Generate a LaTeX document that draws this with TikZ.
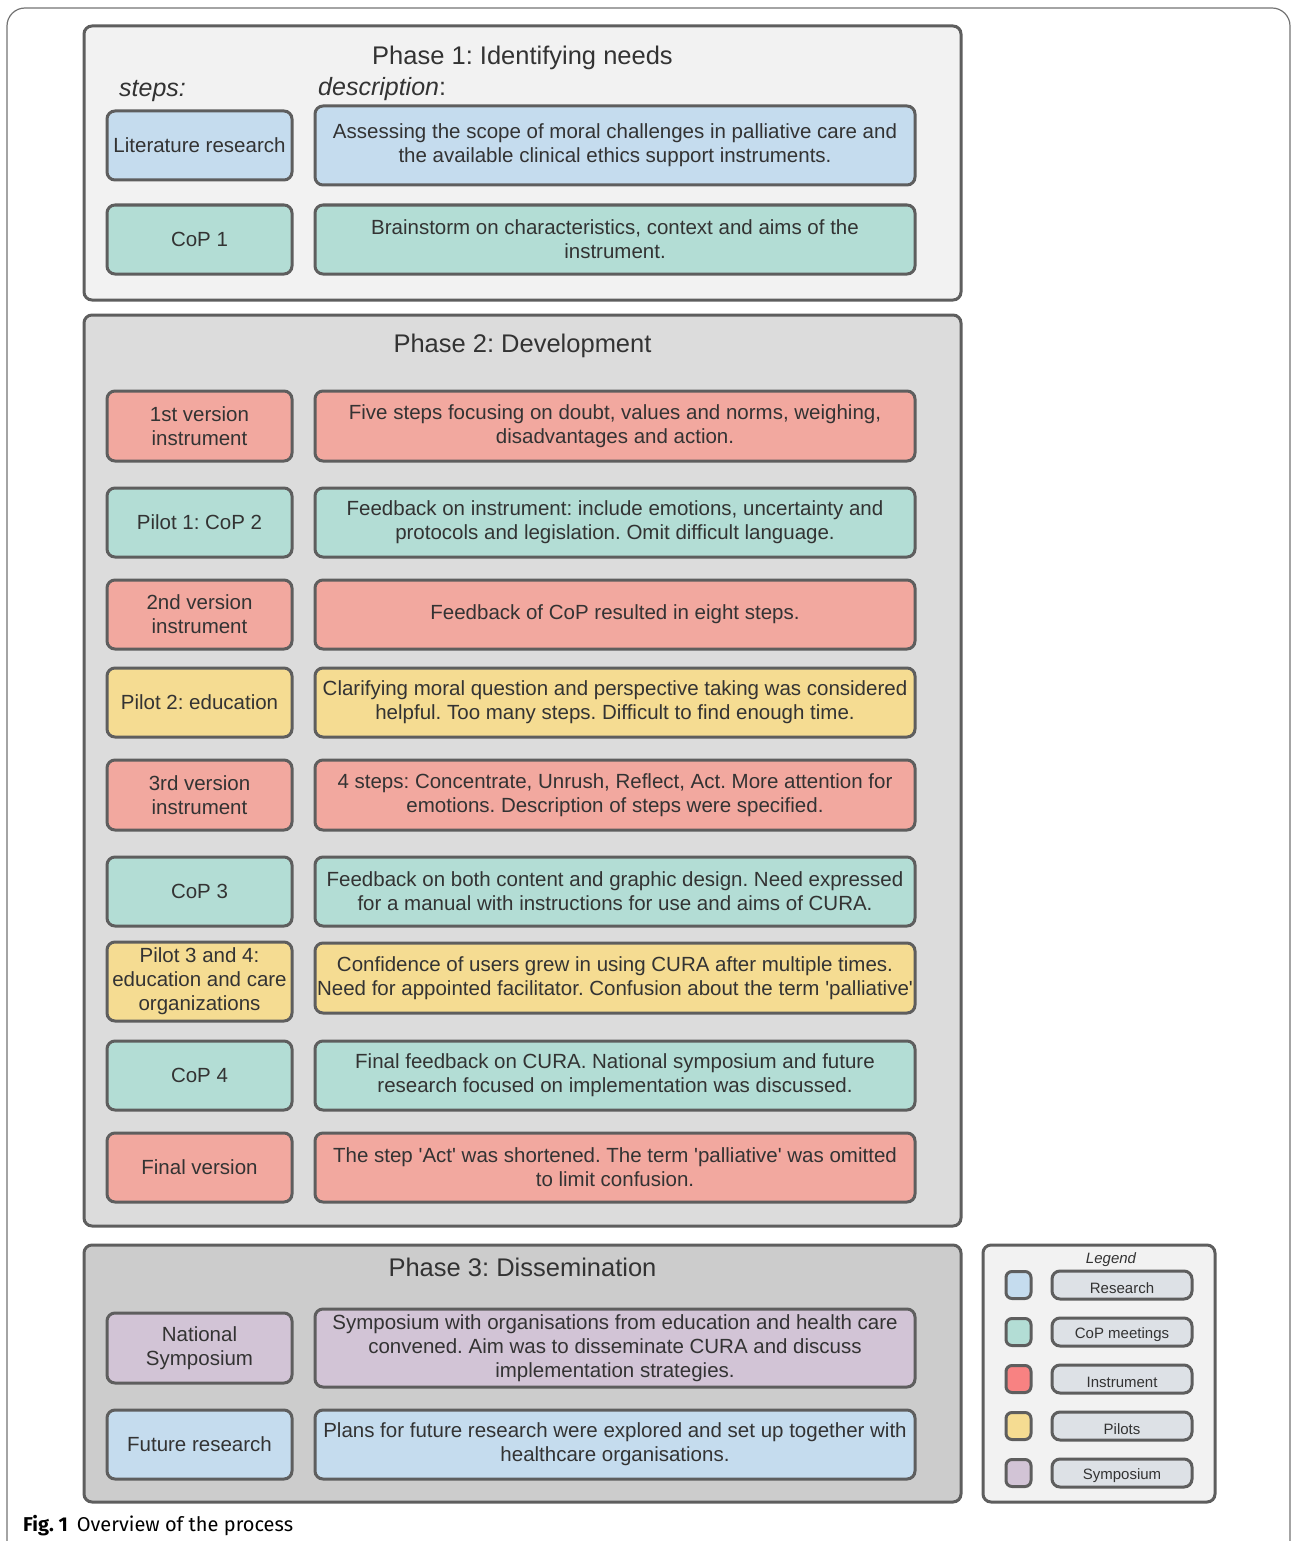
\documentclass[tikz,border=0pt]{standalone}
\usepackage{fontspec}
\setmainfont{Liberation Sans}
\newfontfamily\capfont{Fira Sans}
\frenchspacing
\definecolor{txt}{HTML}{333333}
\definecolor{bord}{HTML}{5E5E5E}
\definecolor{cblue}{HTML}{C5DCEE}
\definecolor{cteal}{HTML}{B3DDD5}
\definecolor{cred}{HTML}{F2A89F}
\definecolor{cyel}{HTML}{F5DC92}
\definecolor{cpur}{HTML}{D2C4D6}
\definecolor{lred}{HTML}{F88282}
\definecolor{lbox}{HTML}{DDE1E6}
\definecolor{pone}{HTML}{F2F2F2}
\definecolor{ptwo}{HTML}{DCDCDC}
\definecolor{pthree}{HTML}{CCCCCC}
\newcommand{\lowtext}[1]{\raisebox{-3pt}[\height][\depth]{#1}}
\newcommand{\hightext}[1]{\raisebox{1.5pt}[\height][\depth]{\begin{tabular}{@{}c@{}}#1\end{tabular}}}
\tikzset{
  bx/.style={draw=bord, line width=3pt, rounded corners=8pt, inner sep=0pt, align=center,
    text=txt, font=\fontsize{20.5}{24}\selectfont},
  stepbox/.style={bx, minimum width=185pt, minimum height=69pt},
  descbox/.style={bx, minimum width=600pt, minimum height=69pt},
  phasebox/.style={draw=bord, line width=3pt, rounded corners=8pt},
  ptitle/.style={text=txt, font=\fontsize{25.5}{30}\selectfont, inner sep=0pt},
  swatch/.style={draw=bord, line width=3pt, rounded corners=6pt, minimum width=25pt, minimum height=27pt, inner sep=0pt},
  legbox/.style={draw=bord, line width=3pt, rounded corners=8pt, minimum width=140pt, minimum height=28pt, inner sep=0pt,
    text=txt, font=\fontsize{15}{18}\selectfont},
}
\begin{document}
\begin{tikzpicture}[x=1pt,y=-1pt]
\useasboundingbox (0,0) rectangle (1292,1541);
% outer frame
\draw[color=black!55, line width=1.2pt, rounded corners=18pt] (7,1545) -- (7,8) -- (1290,8) -- (1290,1545);
% phase boxes
\draw[phasebox, fill=pone] (84,26) rectangle (961,300);
\draw[phasebox, fill=ptwo] (84,315) rectangle (961,1226);
\draw[phasebox, fill=pthree] (84,1245) rectangle (961,1502);
\draw[phasebox, fill=pone] (983,1245) rectangle (1215,1502);
% titles
\node[ptitle] (t1) at (522.5,58) {Phase 1: Identifying needs};
\node[ptitle] (t2) at (522.5,346) {Phase 2: Development};
\node[ptitle] (t3) at (522.5,1267) {Phase 3: Dissemination};
\node[ptitle, anchor=west, font=\fontsize{25}{30}\selectfont\itshape] (hs) at (119,91) {steps:};
\node[ptitle, anchor=west, font=\fontsize{25}{30}\selectfont] (hd) at (318,89) {\textit{description}:};
% Phase 1
\node[stepbox, fill=cblue] (s1) at (199.5,145.5) {Literature research};
\node[descbox, fill=cblue, minimum height=79pt] (d1) at (615,145.5) {Assessing the scope of moral challenges in palliative care and\\the available clinical ethics support instruments.};
\node[stepbox, fill=cteal] (s2) at (199.5,239.5) {CoP 1};
\node[descbox, fill=cteal] (d2) at (615,239.5) {Brainstorm on characteristics, context and aims of the\\instrument.};
% Phase 2
\node[stepbox, fill=cred, minimum height=70pt] (s3) at (199.5,426) {1st version\\instrument};
\node[descbox, fill=cred, minimum height=70pt] (d3) at (615,426) {Five steps focusing on doubt, values and norms, weighing,\\disadvantages and action.};
\node[stepbox, fill=cteal] (s4) at (199.5,522.5) {Pilot 1: CoP 2};
\node[descbox, fill=cteal] (d4) at (615,522.5) {Feedback on instrument: include emotions, uncertainty and\\protocols and legislation. Omit difficult language.};
\node[stepbox, fill=cred] (s5) at (199.5,614.5) {2nd version\\instrument};
\node[descbox, fill=cred] (d5) at (615,614.5) {Feedback of CoP resulted in eight steps.};
\node[stepbox, fill=cyel] (s6) at (199.5,702.5) {Pilot 2: education};
\node[descbox, fill=cyel] (d6) at (615,702.5) {Clarifying moral question and perspective taking was considered\\helpful. Too many steps. Difficult to find enough time.};
\node[stepbox, fill=cred, minimum height=70pt] (s7) at (199.5,795) {3rd version\\instrument};
\node[descbox, fill=cred, minimum height=70pt] (d7) at (615,795) {4 steps: Concentrate, Unrush, Reflect, Act. More attention for\\emotions. Description of steps were specified.};
\node[stepbox, fill=cteal] (s8) at (199.5,891.5) {CoP 3};
\node[descbox, fill=cteal] (d8) at (615,891.5) {Feedback on both content and graphic design. Need expressed\\for a manual with instructions for use and aims of CURA.};
\node[stepbox, fill=cyel, minimum height=79pt] (s9) at (199.5,981.5) {Pilot 3 and 4:\\education and care\\organizations};
\node[descbox, fill=cyel, minimum height=70pt] (d9) at (615,978) {Confidence of users grew in using CURA after multiple times.\\Need for appointed facilitator. Confusion about the term \textquotesingle palliative\textquotesingle};
\node[stepbox, fill=cteal] (s10) at (199.5,1075.5) {CoP 4};
\node[descbox, fill=cteal] (d10) at (615,1075.5) {Final feedback on CURA. National symposium and future\\research focused on implementation was discussed.};
\node[stepbox, fill=cred] (s11) at (199.5,1167.5) {Final version};
\node[descbox, fill=cred] (d11) at (615,1167.5) {The step \textquotesingle Act\textquotesingle\ was shortened. The term \textquotesingle palliative\textquotesingle\ was omitted\\to limit confusion.};
% Phase 3
\node[stepbox, fill=cpur, minimum height=70pt] (s12) at (199.5,1348) {National\\Symposium};
\node[descbox, fill=cpur, minimum height=78pt] (d12) at (615,1348) {Symposium with organisations from education and health care\\convened. Aim was to disseminate CURA and discuss\\implementation strategies.};
\node[stepbox, fill=cblue] (s13) at (199.5,1444.5) {Future research};
\node[descbox, fill=cblue] (d13) at (615,1444.5) {Plans for future research were explored and set up together with\\healthcare organisations.};
% Legend
\node[text=txt, font=\fontsize{15}{18}\selectfont\itshape, inner sep=0pt] (lt) at (1111,1260) {Legend};
\node[swatch, fill=cblue] (w1) at (1018.5,1285) {};
\node[legbox, fill=lbox] (l1) at (1122,1285) {\lowtext{Research}};
\node[swatch, fill=cteal] (w2) at (1018.5,1332) {};
\node[legbox, fill=lbox] (l2) at (1122,1332) {\lowtext{CoP meetings}};
\node[swatch, fill=lred] (w3) at (1018.5,1379) {};
\node[legbox, fill=lbox] (l3) at (1122,1379) {\lowtext{Instrument}};
\node[swatch, fill=cyel] (w4) at (1018.5,1426) {};
\node[legbox, fill=lbox] (l4) at (1122,1426) {\lowtext{Pilots}};
\node[swatch, fill=cpur] (w5) at (1018.5,1473) {};
\node[legbox, fill=lbox] (l5) at (1122,1473) {\lowtext{Symposium}};
% caption
\node[anchor=base west, inner sep=0pt, font=\capfont\fontsize{20}{24}\selectfont] (cap) at (23,1531) {\textbf{Fig. 1}\hspace{9pt}Overview of the process};
\end{tikzpicture}
\end{document}
